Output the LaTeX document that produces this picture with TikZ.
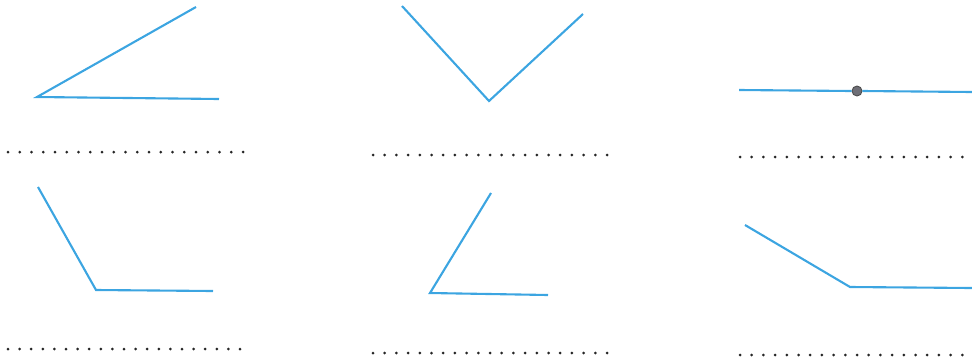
\documentclass[tikz,border=0pt]{standalone}
\usepackage{tikz}
\usetikzlibrary{positioning}
\definecolor{angleblue}{RGB}{60,165,225}
\definecolor{dotgray}{RGB}{110,110,118}
\tikzset{
  angleline/.style={
    draw=angleblue,
    line width=1.2pt,
    line join=miter
  },
  pointmark/.style={
    circle,
    draw=black!70,
    fill=dotgray,
    line width=0.5pt,
    minimum size=0.2cm,
    inner sep=0pt
  },
  dotmark/.style={
    fill=black!85
  }
}

\begin{document}
\begin{tikzpicture}[x=0.02cm,y=-0.02cm]
  \useasboundingbox (0,0) rectangle (972,362);
  \coordinate (v1) at (37,97);
  \coordinate (a1) at (196,7);
  \coordinate (b1) at (219,99);
  \coordinate (v2) at (489,101);
  \coordinate (a2) at (402,6);
  \coordinate (b2) at (583,14);
  \coordinate (a3) at (739,90);
  \coordinate (b3) at (972,92);
  \node[pointmark] (p3) at (857,91) {};
  \coordinate (v4) at (96,290);
  \coordinate (a4) at (38,187);
  \coordinate (b4) at (213,291);
  \coordinate (v5) at (430,293);
  \coordinate (a5) at (491,193);
  \coordinate (b5) at (548,295);
  \coordinate (v6) at (850,287);
  \coordinate (a6) at (745,225);
  \coordinate (b6) at (972,288);
  \draw[angleline] (a1) -- (v1) -- (b1);
  \draw[angleline] (a2) -- (v2) -- (b2);
  \draw[angleline] (a3) -- (p3.west);
  \draw[angleline] (p3.east) -- (b3);
  \draw[angleline] (a4) -- (v4) -- (b4);
  \draw[angleline] (a5) -- (v5) -- (b5);
  \draw[angleline] (a6) -- (v6) -- (b6);
  \foreach \k in {0,...,20} {
    \fill[dotmark] (8+11.75*\k,152) circle (1.5);
    \fill[dotmark] (373+11.7*\k,155) circle (1.5);
    \fill[dotmark] (8+11.6*\k,349) circle (1.5);
    \fill[dotmark] (373+11.7*\k,353) circle (1.5);
  }
  \foreach \k in {0,...,19} {
    \fill[dotmark] (740+11.7*\k,157) circle (1.5);
    \fill[dotmark] (740+11.7*\k,355) circle (1.5);
  }
\end{tikzpicture}
\end{document}
